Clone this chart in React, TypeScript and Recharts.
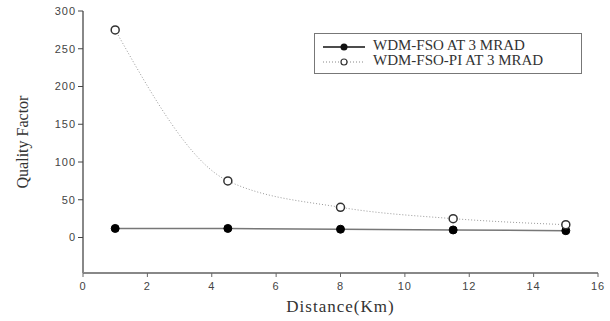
import React from "react";
import { LineChart, Line, XAxis, YAxis, Label } from "recharts";

const distances = [1, 4.5, 8, 11.5, 15];
const wdmFso = [12, 12, 11, 10, 9];
const wdmFsoPi = [275, 75, 40, 25, 17];
const xTicks = [0, 2, 4, 6, 8, 10, 12, 14, 16];
const yTicks = [0, 50, 100, 150, 200, 250, 300];

const data = distances.map((d, i) => ({ d, fso: wdmFso[i], pi: wdmFsoPi[i] }));

const tickStyle = { fontFamily: "Liberation Sans, Arial, sans-serif", fontSize: 11, fill: "#444", letterSpacing: 1 };

const LegendBox = () => (
  <div style={{ position: "absolute", left: 314, top: 33, width: 268, height: 41, border: "1.5px solid #777", background: "#fff", boxSizing: "border-box", fontFamily: "Liberation Serif, Times New Roman, serif", fontSize: 15, color: "#333" }}>
    <svg width={60} height={40} style={{ position: "absolute", left: 0, top: 0 }}>
      <line x1={8} x2={50} y1={13} y2={13} stroke="#111" strokeWidth={1.5} />
      <circle cx={29} cy={13} r={3.5} fill="#111" />
      <line x1={8} x2={50} y1={28} y2={28} stroke="#888" strokeWidth={1} strokeDasharray="1 2" />
      <circle cx={29} cy={28} r={3} fill="#fff" stroke="#333" strokeWidth={1.2} />
    </svg>
    <div style={{ position: "absolute", left: 58, top: 4, lineHeight: "15px", whiteSpace: "nowrap" }}>
      <div>WDM-FSO AT 3 MRAD</div>
      <div>WDM-FSO-PI AT 3 MRAD</div>
    </div>
  </div>
);

export default function App() {
  return (
    <div style={{ position: "absolute", left: 0, top: 0, width: 610, height: 321, background: "#fff" }}>
      <LineChart width={610} height={321} data={data} margin={{ top: 11, right: 12, bottom: 0, left: 0 }}>
        <XAxis
          dataKey="d"
          type="number"
          domain={[0, 16]}
          ticks={xTicks}
          axisLine={{ stroke: "#888", strokeWidth: 2 }}
          tickLine={{ stroke: "#666" }}
          tickSize={4}
          tickMargin={5}
          tick={tickStyle}
          height={48}
        >
          <Label value="Distance(Km)" position="insideBottom" offset={9} style={{ fontFamily: "Liberation Serif, serif", fontSize: 17, fill: "#333", letterSpacing: 1 }} />
        </XAxis>
        <XAxis xAxisId="top" orientation="top" dataKey="d" type="number" domain={[0, 16]} tick={false} tickLine={false} axisLine={{ stroke: "#111", strokeWidth: 2 }} height={0} />
        <YAxis
          type="number"
          domain={[-47, 300]}
          ticks={yTicks}
          allowDataOverflow
          axisLine={{ stroke: "#888", strokeWidth: 2 }}
          tickLine={{ stroke: "#444" }}
          tickSize={5}
          tick={tickStyle}
          width={83}
        >
          <Label value="Quality Factor" angle={-90} position="insideLeft" offset={22} style={{ fontFamily: "Liberation Serif, serif", fontSize: 16, fill: "#333", textAnchor: "middle" }} />
        </YAxis>
        <YAxis yAxisId="right" orientation="right" domain={[-47, 300]} tick={false} tickLine={false} axisLine={{ stroke: "#888", strokeWidth: 2 }} width={0} />
        <Line
          dataKey="fso"
          type="linear"
          stroke="#777"
          strokeWidth={1.5}
          dot={{ r: 4, fill: "#000", stroke: "#000", strokeWidth: 1 }}
          isAnimationActive={false}
        />
        <Line
          dataKey="pi"
          type="monotone"
          stroke="#999"
          strokeWidth={1}
          strokeDasharray="1 2"
          dot={{ r: 4, fill: "#fff", stroke: "#333", strokeWidth: 1.5, strokeDasharray: "0" }}
          isAnimationActive={false}
        />
      </LineChart>
      <LegendBox />
    </div>
  );
}
